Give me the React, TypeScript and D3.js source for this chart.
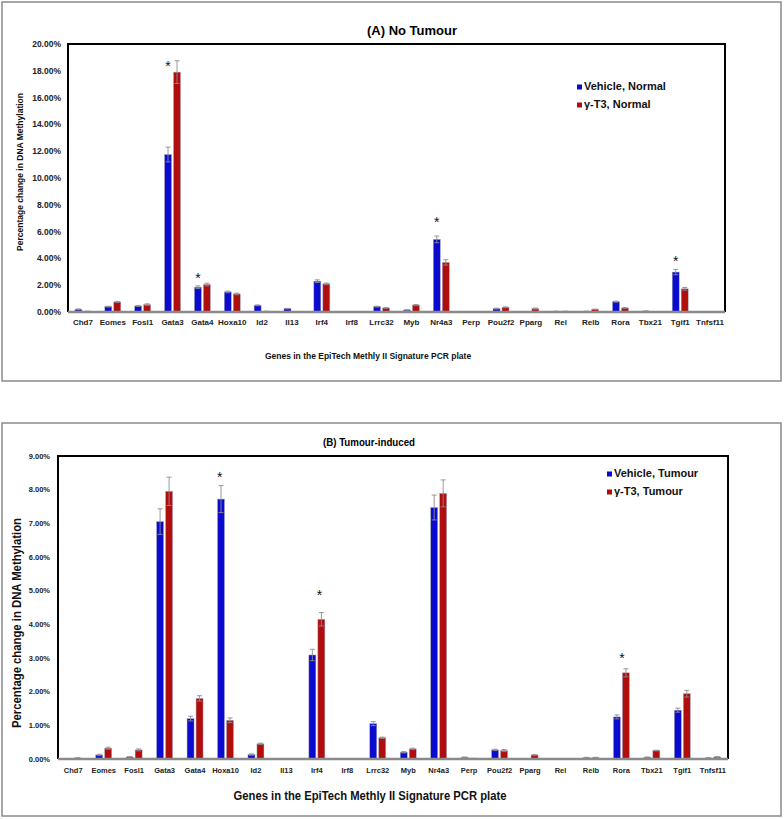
import React from "react";
import * as d3 from "d3";

const genes = ["Chd7","Eomes","Fosl1","Gata3","Gata4","Hoxa10","Id2","Il13","Irf4","Irf8","Lrrc32","Myb","Nr4a3","Perp","Pou2f2","Pparg","Rel","Relb","Rora","Tbx21","Tgif1","Tnfsf11"];

// Panel A: No Tumour (percent)
const vehicleNormal = [0.2,0.4,0.45,11.75,1.85,1.5,0.5,0.25,2.3,0,0.4,0.15,5.42,0,0.25,0,0.05,0.05,0.77,0.07,2.98,0];
const vehicleNormalErr = [0.03,0.03,0.04,0.55,0.1,0.06,0.03,0.02,0.1,0,0.03,0.02,0.25,0,0.03,0,0.01,0.01,0.04,0.01,0.2,0];
const t3Normal = [0.05,0.75,0.55,17.9,2.05,1.35,0.05,0.02,2.1,0.02,0.3,0.52,3.7,0.02,0.35,0.25,0.05,0.2,0.3,0.01,1.73,0.01];
const t3NormalErr = [0.01,0.04,0.06,0.85,0.1,0.06,0.01,0,0.06,0,0.02,0.04,0.2,0,0.03,0.04,0.01,0.02,0.03,0,0.1,0];
const starsNormal = [
  { gene: "Gata3", level: 18.6, side: -1 },
  { gene: "Gata4", level: 2.76, side: -1 },
  { gene: "Nr4a3", level: 6.94, side: -1 },
  { gene: "Tgif1", level: 4.03, side: -1 },
];
const ticksNormal = [0,2,4,6,8,10,12,14,16,18,20];

// Panel B: Tumour-induced (percent)
const vehicleTumour = [0.01,0.12,0.06,7.05,1.2,7.72,0.13,0.01,3.09,0.01,1.05,0.2,7.47,0.05,0.27,0.01,0.01,0.04,1.25,0.05,1.45,0.03];
const vehicleTumourErr = [0,0.02,0.01,0.38,0.07,0.4,0.02,0,0.17,0,0.06,0.02,0.37,0.01,0.02,0,0,0.01,0.06,0.01,0.06,0.01];
const t3Tumour = [0.03,0.32,0.27,7.95,1.8,1.15,0.45,0.01,4.15,0.01,0.63,0.3,7.89,0.03,0.25,0.12,0,0.04,2.56,0.25,1.94,0.06];
const t3TumourErr = [0.01,0.03,0.03,0.42,0.08,0.07,0.02,0,0.2,0,0.02,0.02,0.4,0,0.03,0.01,0,0.01,0.12,0.01,0.1,0.01];
const starsTumour = [
  { gene: "Hoxa10", level: 8.46, side: -1.3 },
  { gene: "Irf4", level: 4.97, side: 0.6 },
  { gene: "Rora", level: 3.09, side: 0.1 },
];
const ticksTumour = [0,1,2,3,4,5,6,7,8,9];

const BLUE = "#0b0bd0";
const RED = "#b00d0d";
const FONT = "Liberation Sans, Arial, Helvetica, sans-serif";

type PanelProps = {
  box: [number, number, number, number];
  plot: { x0: number; x1: number; y0: number; y1: number };
  ymax: number;
  ticks: number[];
  a: number[]; aErr: number[]; b: number[]; bErr: number[];
  stars: { gene: string; level: number; side: number }[];
  title: string; titleX: number; titleY: number; titleSize: number; titleLen?: number;
  tickSize: number; tickX: number;
  labelSize: number; labelY: number;
  xTitleX: number; xTitleY: number; xTitleSize: number; xTitleLen?: number;
  yTitleX: number; yTitleY: number; yTitleSize: number; yTitleLen?: number;
  legend: { x: number; y: number; dy: number; size: number; names: string[] };
};

function Panel(p: PanelProps) {
  const x = d3.scaleBand<string>().domain(genes).range([p.plot.x0, p.plot.x1]).padding(0);
  const y = d3.scaleLinear().domain([0, p.ymax]).range([p.plot.y1, p.plot.y0]);
  const barW = 7, gap = 2;
  const fmt = (v: number) => v.toFixed(2) + "%";
  const series = [
    { vals: p.a, errs: p.aErr, color: BLUE, off: -gap / 2 - barW },
    { vals: p.b, errs: p.bErr, color: RED, off: gap / 2 },
  ];
  return (
    <g>
      <rect x={p.box[0]} y={p.box[1]} width={p.box[2]} height={p.box[3]} fill="#fff" stroke="#8a8a8a" strokeWidth={1.5} />
      <text x={p.titleX} y={p.titleY} textAnchor="middle" fontSize={p.titleSize} fontWeight="bold" fontFamily={FONT}
        textLength={p.titleLen} lengthAdjust={p.titleLen ? "spacingAndGlyphs" : undefined}>{p.title}</text>
      {series.map((s, si) => genes.map((g, i) => {
        const c = (x(g) as number) + x.bandwidth() / 2;
        const v = s.vals[i];
        const e = s.errs[i];
        const bx = c + s.off;
        const top = y(v);
        return (
          <g key={si + "-" + g}>
            <rect x={bx} y={top} width={barW} height={Math.max(0, y(0) - top)} fill={s.color} stroke="#a8a8c0" strokeWidth={0.5} />
            {e > 0 && (
              <g stroke="#8c8c8c" strokeWidth={0.9}>
                <line x1={bx + barW / 2} x2={bx + barW / 2} y1={y(v - e)} y2={y(v + e)} />
                <line x1={bx + barW / 2 - 2.5} x2={bx + barW / 2 + 2.5} y1={y(v + e)} y2={y(v + e)} />
                <line x1={bx + barW / 2 - 2.5} x2={bx + barW / 2 + 2.5} y1={y(v - e)} y2={y(v - e)} />
              </g>
            )}
          </g>
        );
      }))}
      <path d={`M${p.plot.x0},${p.plot.y1}V${p.plot.y0}H${p.plot.x1}V${p.plot.y1}`} fill="none" stroke="#000" strokeWidth={2} />
      <line x1={p.plot.x0} x2={p.plot.x1} y1={p.plot.y1} y2={p.plot.y1} stroke="#8a8a8a" strokeWidth={2.5} />
      {p.ticks.map((t) => (
        <text key={t} x={p.tickX} y={y(t) + p.tickSize * 0.36} textAnchor="end" fontSize={p.tickSize} fontWeight="bold" fontFamily={FONT} fill="#222">{fmt(t)}</text>
      ))}
      {genes.map((g) => (
        <text key={g} x={(x(g) as number) + x.bandwidth() / 2} y={p.labelY} textAnchor="middle" fontSize={p.labelSize} fontWeight="bold" fontFamily={FONT} fill="#222">{g}</text>
      ))}
      {p.stars.map((s) => (
        <text key={s.gene} x={(x(s.gene) as number) + x.bandwidth() / 2 + s.side * 4.5} y={y(s.level) + 8} textAnchor="middle" fontSize={14} fontFamily={FONT} fill="#111">*</text>
      ))}
      <text x={p.xTitleX} y={p.xTitleY} textAnchor="middle" fontSize={p.xTitleSize} fontWeight="bold" fontFamily={FONT} fill="#111"
        textLength={p.xTitleLen} lengthAdjust={p.xTitleLen ? "spacingAndGlyphs" : undefined}>Genes in the EpiTech Methly II Signature PCR plate</text>
      <text transform={`translate(${p.yTitleX},${p.yTitleY}) rotate(-90)`} textAnchor="middle" fontSize={p.yTitleSize} fontWeight="bold" fontFamily={FONT} fill="#111"
        textLength={p.yTitleLen} lengthAdjust={p.yTitleLen ? "spacingAndGlyphs" : undefined}>Percentage change in DNA Methylation</text>
      {p.legend.names.map((n, i) => (
        <g key={n}>
          <rect x={p.legend.x} y={p.legend.y + i * p.legend.dy - 5.5} width={5} height={5} fill={i === 0 ? BLUE : RED} />
          <text x={p.legend.x + 7} y={p.legend.y + i * p.legend.dy} fontSize={p.legend.size} fontWeight="bold" fontFamily={FONT} fill="#111">{n}</text>
        </g>
      ))}
    </g>
  );
}

export default function App() {
  return (
    <svg width={784} height={819} style={{ position: "absolute", left: 0, top: 0, background: "#fff" }}>
      <Panel
        box={[2, 2, 779, 379]}
        plot={{ x0: 68, x1: 725, y0: 44, y1: 312 }}
        ymax={20}
        ticks={ticksNormal}
        a={vehicleNormal} aErr={vehicleNormalErr} b={t3Normal} bErr={t3NormalErr}
        stars={starsNormal}
        title="(A) No Tumour" titleX={412} titleY={35} titleSize={13}
        tickSize={8.5} tickX={61}
        labelSize={8} labelY={325}
        xTitleX={368} xTitleY={359} xTitleSize={8.5}
        yTitleX={23} yTitleY={172} yTitleSize={8.5}
        legend={{ x: 577, y: 90, dy: 18, size: 11, names: ["Vehicle, Normal", "γ-T3, Normal"] }}
      />
      <Panel
        box={[2, 423, 779, 393]}
        plot={{ x0: 58, x1: 728, y0: 456, y1: 759 }}
        ymax={9}
        ticks={ticksTumour}
        a={vehicleTumour} aErr={vehicleTumourErr} b={t3Tumour} bErr={t3TumourErr}
        stars={starsTumour}
        title="(B) Tumour-induced" titleX={369} titleY={446} titleSize={10} titleLen={92}
        tickSize={7.5} tickX={50}
        labelSize={7.5} labelY={773}
        xTitleX={370} xTitleY={800} xTitleSize={12.5} xTitleLen={273}
        yTitleX={21} yTitleY={623} yTitleSize={12} yTitleLen={210}
        legend={{ x: 607, y: 477, dy: 18, size: 11, names: ["Vehicle, Tumour", "γ-T3, Tumour"] }}
      />
    </svg>
  );
}
